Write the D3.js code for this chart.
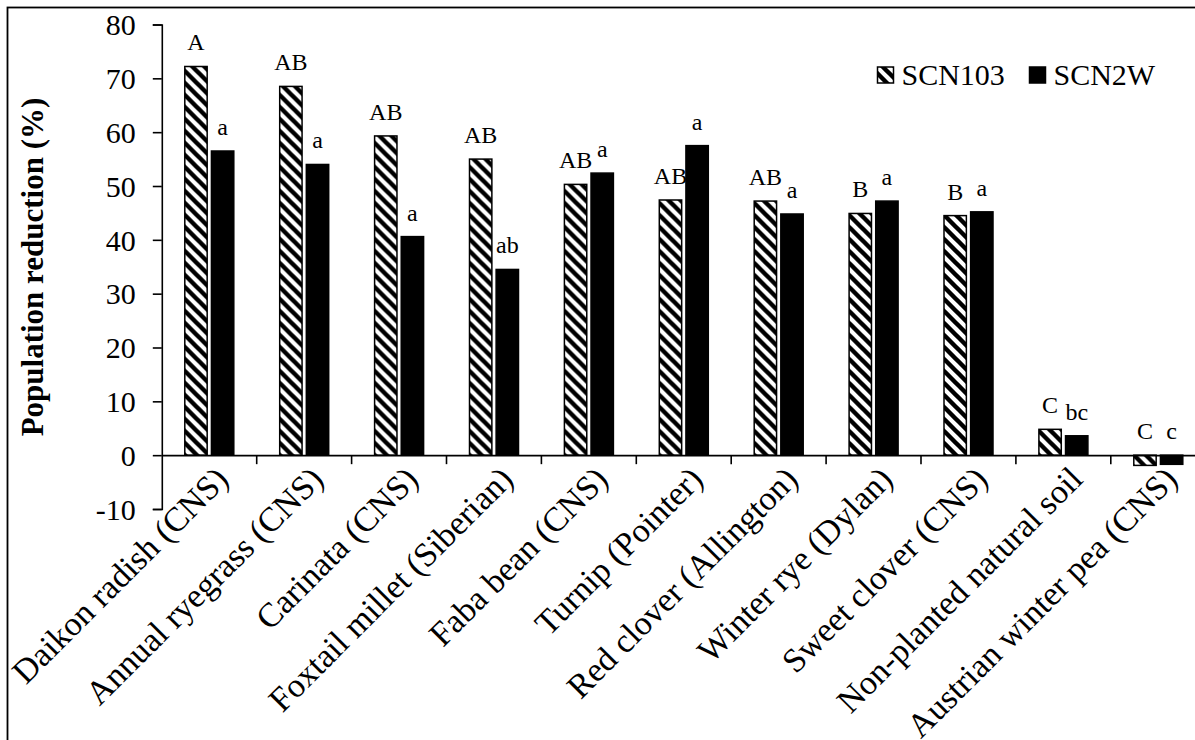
<!DOCTYPE html>
<html>
<head>
<meta charset="utf-8">
<script src="https://cdn.jsdelivr.net/npm/d3@7"></script>
<style>
  html, body { margin: 0; padding: 0; background: #fff; }
  svg { display: block; }
  text { font-family: "Liberation Serif", "Times New Roman", serif; fill: #000; }
</style>
</head>
<body>
<svg id="chart" width="1195" height="740"></svg>
<script>
// ---- data ----
const categories = [
  "Daikon radish (CNS)", "Annual ryegrass (CNS)", "Carinata (CNS)",
  "Foxtail millet (Siberian)", "Faba bean (CNS)", "Turnip (Pointer)",
  "Red clover (Allington)", "Winter rye (Dylan)", "Sweet clover (CNS)",
  "Non-planted natural soil", "Austrian winter pea (CNS)"
];
const series = ["SCN103", "SCN2W"];
const scn103 = [72.2, 68.5, 59.3, 55.0, 50.3, 47.4, 47.2, 44.9, 44.5, 4.8, -1.9];
const scn2w  = [56.5, 54.0, 40.6, 34.5, 52.4, 57.5, 44.8, 47.2, 45.2, 3.6, -1.7];
const letters103 = ["A", "AB", "AB", "AB", "AB", "AB", "AB", "B", "B", "C", "C"];
const letters2w  = ["a", "a", "a", "ab", "a", "a", "a", "a", "a", "bc", "c"];
const yTicks = [-10, 0, 10, 20, 30, 40, 50, 60, 70, 80];

const svg = d3.select("#chart");

// hatch pattern (wide downward diagonal)
const defs = svg.append("defs");
const P = 12;
const pat = defs.append("pattern")
  .attr("id", "hatch").attr("patternUnits", "userSpaceOnUse")
  .attr("width", P).attr("height", P);
pat.append("rect").attr("width", P).attr("height", P).attr("fill", "#fff");
pat.append("path")
  .attr("d", `M-3,-3 L${P + 3},${P + 3} M-3,${P - 3} L3,${P + 3} M${P - 3},-3 L${P + 3},3`)
  .attr("stroke", "#000").attr("stroke-width", 4.4);

// frame
svg.append("rect").attr("x", 7.5).attr("y", 7.5).attr("width", 1300).attr("height", 900)
  .attr("fill", "none").attr("stroke", "#000").attr("stroke-width", 1.8);

// scales
const x0 = d3.scaleBand().domain(categories).range([161.8, 1205.7]).padding(0);
const x1 = d3.scaleBand().domain(series).range([23, 72]).paddingInner(0.16).paddingOuter(0);
const y = d3.scaleLinear().domain([-10, 80]).range([509, 24.5]);

const data = categories.map((c, i) => ({
  cat: c,
  vals: [
    { s: "SCN103", v: scn103[i], lab: letters103[i] },
    { s: "SCN2W", v: scn2w[i], lab: letters2w[i] }
  ]
}));

// bars
const g = svg.append("g").selectAll("g").data(data).join("g")
  .attr("transform", d => `translate(${x0(d.cat)},0)`);

g.selectAll("rect").data(d => d.vals).join("rect")
  .attr("x", d => x1(d.s))
  .attr("width", x1.bandwidth())
  .attr("y", d => y(Math.max(0, d.v)))
  .attr("height", d => Math.abs(y(d.v) - y(0)))
  .attr("fill", d => d.s === "SCN103" ? "url(#hatch)" : "#000")
  .attr("stroke", "#000").attr("stroke-width", 1.5);

g.selectAll("text").data(d => d.vals).join("text")
  .attr("x", d => x1(d.s) + x1.bandwidth() / 2)
  .attr("y", d => y(Math.max(0, d.v)) - 16)
  .attr("text-anchor", "middle")
  .attr("font-size", 24)
  .text(d => d.lab);

// y axis
const yAxis = svg.append("g").attr("transform", "translate(161.8,0)")
  .call(d3.axisLeft(y).tickValues(yTicks).tickSize(9).tickPadding(17)
    .tickFormat(d => String(d)));
yAxis.select(".domain").attr("stroke", "#000").attr("stroke-width", 1.6);
yAxis.selectAll(".tick line").attr("stroke", "#000").attr("stroke-width", 1.6);
yAxis.selectAll(".tick text").attr("font-size", 30).attr("dy", "0.34em");

// x axis at zero
const xAxis = svg.append("g").attr("transform", `translate(0,${y(0)})`)
  .call(d3.axisBottom(x0).tickSize(0).tickFormat(""));
xAxis.select(".domain").attr("stroke", "#000").attr("stroke-width", 1.6);
xAxis.selectAll(".tick").remove();
// boundary ticks
const bounds = categories.map(c => x0(c)).slice(1).concat([x0.range()[1]]);
svg.append("g").selectAll("line").data(bounds).join("line")
  .attr("x1", d => d).attr("x2", d => d)
  .attr("y1", y(0)).attr("y2", y(0) + 9)
  .attr("stroke", "#000").attr("stroke-width", 1.6);

// category labels
svg.append("g").selectAll("text").data(categories).join("text")
  .attr("text-anchor", "end")
  .attr("font-size", 34)
  .attr("transform", c => `translate(${x0(c) + x0.bandwidth() / 2 + 21},${y(0) + 26}) rotate(-45)`)
  .text(c => c);

// y title
svg.append("text")
  .attr("transform", `translate(43,267) rotate(-90)`)
  .attr("text-anchor", "middle")
  .attr("font-size", 31).attr("font-weight", "bold")
  .text("Population reduction (%)");

// legend
const leg = svg.append("g");
const legItems = [
  { s: "SCN103", x: 877.5, fill: "url(#hatch)" },
  { s: "SCN2W", x: 1029.5, fill: "#000" }
];
legItems.forEach(it => {
  leg.append("rect").attr("x", it.x).attr("y", 67).attr("width", 16).attr("height", 16)
    .attr("fill", it.fill).attr("stroke", "#000").attr("stroke-width", 1.5);
  leg.append("text").attr("x", it.x + 24).attr("y", 85).attr("font-size", 30).text(it.s);
});
</script>
</body>
</html>
